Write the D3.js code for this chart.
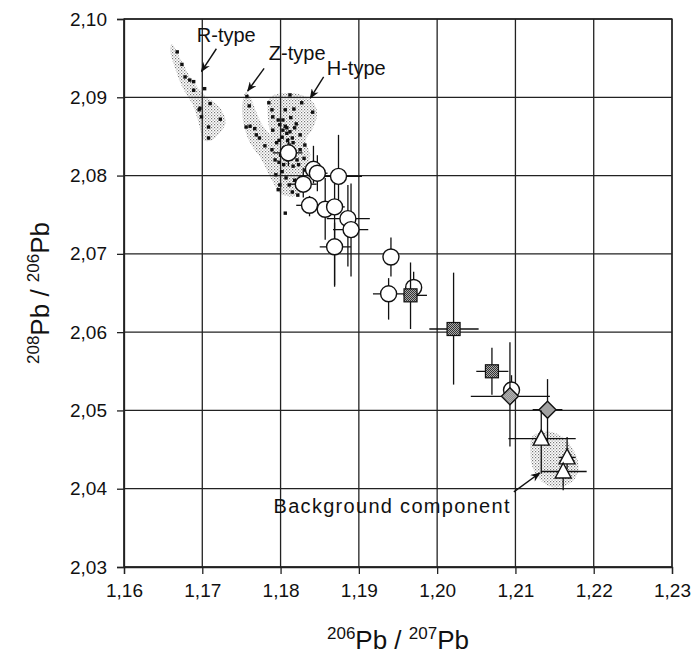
<!DOCTYPE html>
<html>
<head>
<meta charset="utf-8">
<script src="https://cdn.jsdelivr.net/npm/d3@7"></script>
<style>
  body { margin: 0; background: #fff; }
  text { font-family: "Liberation Sans", Arial, sans-serif; fill: #111; }
</style>
</head>
<body>
<div id="chart"></div>
<script>
// axis ticks
const xTicks = [1.16, 1.17, 1.18, 1.19, 1.20, 1.21, 1.22, 1.23];
const yTicks = [2.03, 2.04, 2.05, 2.06, 2.07, 2.08, 2.09, 2.10];

// rows: [x, y, xLow, xHigh, yLow, yHigh]
const circles = [
    [1.1810, 2.0829, 1.1790, 1.1828, 2.0812, 2.0848],
    [1.1842, 2.0808, 1.1832, 1.1852, 2.0790, 2.0838],
    [1.1847, 2.0803, 1.1835, 1.1860, 2.0780, 2.0826],
    [1.1874, 2.0799, 1.1856, 1.1904, 2.0752, 2.0852],
    [1.1829, 2.0789, 1.1812, 1.1846, 2.0772, 2.0810],
    [1.1837, 2.0762, 1.1820, 1.1844, 2.0748, 2.0774],
    [1.1857, 2.0757, 1.1846, 1.1868, 2.0718, 2.0797],
    [1.1869, 2.0760, 1.1856, 1.1882, 2.0660, 2.0790],
    [1.1886, 2.0745, 1.1859, 1.1914, 2.0684, 2.0788],
    [1.1890, 2.0731, 1.1867, 1.1912, 2.0671, 2.0790],
    [1.1869, 2.0709, 1.1850, 1.1890, 2.0658, 2.0740],
    [1.1941, 2.0696, 1.1935, 1.1947, 2.0671, 2.0721],
    [1.1938, 2.0649, 1.1918, 1.1959, 2.0616, 2.0669],
    [1.1970, 2.0657, 1.1960, 1.1980, 2.0640, 2.0677],
    [1.2095, 2.0526, 1.2085, 1.2105, 2.0510, 2.0545]
];
const squares = [
    [1.1966, 2.0647, 1.1957, 1.1987, 2.0604, 2.0689],
    [1.2021, 2.0604, 1.1990, 1.2053, 2.0533, 2.0676],
    [1.2070, 2.0550, 1.2050, 1.2091, 2.0520, 2.0580]
];
const diamonds = [
    [1.2093, 2.0518, 1.2043, 1.2144, 2.0454, 2.0587],
    [1.2141, 2.0501, 1.2122, 1.2160, 2.0459, 2.0540]
];
const triangles = [
    [1.2133, 2.0464, 1.2091, 1.2177, 2.0419, 2.0500],
    [1.2166, 2.0440, 1.2155, 1.2177, 2.0425, 2.0466],
    [1.2161, 2.0422, 1.2133, 1.2191, 2.0398, 2.0440]
];

// literature fields (stippled areas)
const rField = [[1.1661, 2.0968], [1.1674, 2.0945], [1.1687, 2.0922], [1.1703, 2.0903], [1.1723, 2.0886],
    [1.1730, 2.0868], [1.1725, 2.0858], [1.1712, 2.0845], [1.1702, 2.0845], [1.1696, 2.0865],
    [1.1688, 2.0890], [1.1675, 2.0912], [1.1666, 2.0935], [1.1659, 2.0960]];
const zField = [[1.1756, 2.0907], [1.1762, 2.0899], [1.1769, 2.0881], [1.1779, 2.0861], [1.1793, 2.0845],
    [1.1806, 2.0820], [1.1822, 2.0801], [1.1829, 2.0782], [1.1818, 2.0774], [1.1801, 2.0776],
    [1.1789, 2.0794], [1.1776, 2.0820], [1.1761, 2.0842], [1.1753, 2.0865], [1.1751, 2.0890]];
const hField = [[1.1786, 2.0899], [1.1802, 2.0905], [1.1818, 2.0905], [1.1835, 2.0899], [1.1845, 2.0888],
    [1.1846, 2.0874], [1.1840, 2.0858], [1.1832, 2.0845], [1.1838, 2.0826], [1.1831, 2.0807],
    [1.1825, 2.0788], [1.1812, 2.0782], [1.1799, 2.0794], [1.1793, 2.0820], [1.1789, 2.0845], [1.1784, 2.0871]];
const bgField = [[1.2122, 2.0467], [1.2142, 2.0473], [1.2159, 2.0467], [1.2172, 2.0453], [1.2180, 2.0434],
    [1.2179, 2.0418], [1.2167, 2.0405], [1.2148, 2.0402], [1.2133, 2.0410], [1.2122, 2.0427], [1.2119, 2.0447]];

// literature data points
const rDots = [[1.1668, 2.0958], [1.1674, 2.0942], [1.1678, 2.0926], [1.1684, 2.0922], [1.1689, 2.0920],
    [1.1689, 2.0909], [1.1703, 2.0911], [1.1697, 2.0886], [1.1696, 2.0884], [1.1710, 2.0892],
    [1.1699, 2.0875], [1.1723, 2.0872], [1.1708, 2.0862], [1.1708, 2.0848]];
const zDots = [[1.1757, 2.0901], [1.1760, 2.0889], [1.1756, 2.0862], [1.1761, 2.0863], [1.1767, 2.0860],
    [1.1769, 2.0852], [1.1773, 2.0848], [1.1780, 2.0838], [1.1789, 2.0833]];
const hDots = [[1.1812, 2.0903], [1.1817, 2.0885], [1.1841, 2.0881], [1.1785, 2.0893], [1.1789, 2.0884],
    [1.1790, 2.0875], [1.1797, 2.0871], [1.1799, 2.0865], [1.1803, 2.0858], [1.1808, 2.0854],
    [1.1802, 2.0849], [1.1809, 2.0845], [1.1816, 2.0842], [1.1795, 2.0842], [1.1790, 2.0858],
    [1.1825, 2.0833], [1.1803, 2.0871], [1.1806, 2.0863], [1.1808, 2.0861], [1.1812, 2.0856],
    [1.1815, 2.0848], [1.1811, 2.0839], [1.1804, 2.0835], [1.1807, 2.0830], [1.1813, 2.0833],
    [1.1818, 2.0826], [1.1821, 2.0820], [1.1800, 2.0826], [1.1798, 2.0817], [1.1804, 2.0814],
    [1.1809, 2.0820], [1.1816, 2.0812], [1.1823, 2.0814], [1.1830, 2.0822], [1.1832, 2.0807],
    [1.1802, 2.0805], [1.1807, 2.0797], [1.1799, 2.0788], [1.1811, 2.0788], [1.1818, 2.0794],
    [1.1825, 2.0797], [1.1797, 2.0782], [1.1815, 2.0779], [1.1822, 2.0775], [1.1829, 2.0782],
    [1.1806, 2.0752], [1.1794, 2.0801], [1.1793, 2.0820], [1.1798, 2.0845], [1.1820, 2.0866],
    [1.1825, 2.0852], [1.1831, 2.0839], [1.1827, 2.0893], [1.1806, 2.0884], [1.1813, 2.0874],
    [1.1818, 2.0861]];

// annotations: label, text anchor, arrow from, arrow to
const notes = [
    { label: 'R-type', at: [1.1693, 2.0970], from: [1.1718, 2.0962], to: [1.1699, 2.0933], spacing: 0 },
    { label: 'Z-type', at: [1.1785, 2.0947], from: [1.1779, 2.0937], to: [1.1758, 2.0908], spacing: 0 },
    { label: 'H-type', at: [1.1859, 2.0928], from: [1.1855, 2.0926], to: [1.1838, 2.0899], spacing: 0 },
    { label: 'Background component', at: [1.1791, 2.0369], from: [1.2098, 2.0396], to: [1.2131, 2.0420], spacing: 1.3 }
];

const W = 698, H = 659;
const margin = { top: 19, right: 26, bottom: 92, left: 124 };
const iw = W - margin.left - margin.right;
const ih = H - margin.top - margin.bottom;

const x = d3.scaleLinear().domain([1.16, 1.23]).range([0, iw]);
const y = d3.scaleLinear().domain([2.03, 2.10]).range([ih, 0]);
const fmt = d3.formatLocale({ decimal: ',', thousands: '.', grouping: [3], currency: ['', ''] }).format('.2f');

const svg = d3.select('#chart').append('svg')
    .attr('width', W)
    .attr('height', H);

const defs = svg.append('defs');

// stipple for the fields
const stip = defs.append('pattern')
    .attr('id', 'stipple')
    .attr('width', 3).attr('height', 3)
    .attr('patternUnits', 'userSpaceOnUse');
stip.append('rect').attr('width', 3).attr('height', 3).attr('fill', '#fff');
stip.append('rect').attr('x', 0).attr('y', 0).attr('width', 1.2).attr('height', 1.2).attr('fill', '#777');
stip.append('rect').attr('x', 1.5).attr('y', 1.5).attr('width', 1.2).attr('height', 1.2).attr('fill', '#999');

// dark checker for squares
const chk = defs.append('pattern')
    .attr('id', 'checkDark')
    .attr('width', 2).attr('height', 2)
    .attr('patternUnits', 'userSpaceOnUse');
chk.append('rect').attr('width', 2).attr('height', 2).attr('fill', '#333');
chk.append('rect').attr('width', 1).attr('height', 1).attr('fill', '#aaa');
chk.append('rect').attr('x', 1).attr('y', 1).attr('width', 1).attr('height', 1).attr('fill', '#aaa');

// lighter checker for diamonds
const chk2 = defs.append('pattern')
    .attr('id', 'checkLight')
    .attr('width', 2).attr('height', 2)
    .attr('patternUnits', 'userSpaceOnUse');
chk2.append('rect').attr('width', 2).attr('height', 2).attr('fill', '#666');
chk2.append('rect').attr('width', 1).attr('height', 1).attr('fill', '#ddd');
chk2.append('rect').attr('x', 1).attr('y', 1).attr('width', 1).attr('height', 1).attr('fill', '#ddd');

defs.append('marker')
    .attr('id', 'arrow')
    .attr('viewBox', '0 0 10 8')
    .attr('refX', 9).attr('refY', 4)
    .attr('markerWidth', 11).attr('markerHeight', 8)
    .attr('markerUnits', 'userSpaceOnUse')
    .attr('orient', 'auto')
    .append('path')
    .attr('d', 'M0,0 L10,4 L0,8 L3,4 Z')
    .attr('fill', '#111');

const g = svg.append('g')
    .attr('transform', `translate(${margin.left},${margin.top})`);

// stippled fields go under the grid
const line = d3.line().x(d => x(d[0])).y(d => y(d[1])).curve(d3.curveCatmullRomClosed);
[rField, zField, hField, bgField].forEach(f => {
    g.append('path')
        .attr('d', line(f))
        .attr('fill', 'url(#stipple)');
});

// grid
g.append('g').selectAll('line')
    .data(xTicks)
    .enter().append('line')
    .attr('x1', d => x(d)).attr('x2', d => x(d))
    .attr('y1', 0).attr('y2', ih)
    .attr('stroke', '#222').attr('stroke-width', 1.3);
g.append('g').selectAll('line')
    .data(yTicks)
    .enter().append('line')
    .attr('x1', 0).attr('x2', iw)
    .attr('y1', d => y(d)).attr('y2', d => y(d))
    .attr('stroke', '#222').attr('stroke-width', 1.3);

// axes
const xAxis = g.append('g')
    .attr('transform', `translate(0,${ih})`)
    .call(d3.axisBottom(x).tickValues(xTicks).tickFormat(fmt).tickSize(7).tickPadding(10));
const yAxis = g.append('g')
    .call(d3.axisLeft(y).tickValues(yTicks).tickFormat(fmt).tickSize(7).tickPadding(10));
[xAxis, yAxis].forEach(a => {
    a.select('.domain').attr('stroke', '#222').attr('stroke-width', 1.3);
    a.selectAll('.tick line').attr('stroke', '#222').attr('stroke-width', 1.3);
    a.selectAll('.tick text')
        .style('font-family', '"Liberation Sans", Arial, sans-serif')
        .style('font-size', '19px')
        .attr('fill', '#111');
});

// literature points
g.append('g').selectAll('rect')
    .data(rDots.concat(zDots, hDots))
    .enter().append('rect')
    .attr('x', d => x(d[0]) - 1.7)
    .attr('y', d => y(d[1]) - 1.7)
    .attr('width', 3.4).attr('height', 3.4)
    .attr('fill', '#111');

function errorBars(data) {
    const eb = g.append('g').attr('stroke', '#111').attr('stroke-width', 1.3);
    eb.selectAll('.v').data(data).enter().append('line')
        .attr('x1', d => x(d[0])).attr('x2', d => x(d[0]))
        .attr('y1', d => y(d[4])).attr('y2', d => y(d[5]));
    eb.selectAll('.h').data(data).enter().append('line')
        .attr('x1', d => x(d[2])).attr('x2', d => x(d[3]))
        .attr('y1', d => y(d[1])).attr('y2', d => y(d[1]));
}

// circles
errorBars(circles);
g.append('g').selectAll('circle')
    .data(circles)
    .enter().append('circle')
    .attr('cx', d => x(d[0])).attr('cy', d => y(d[1]))
    .attr('r', 8)
    .attr('fill', '#fff').attr('stroke', '#111').attr('stroke-width', 1.4);

// squares
errorBars(squares);
g.append('g').selectAll('rect')
    .data(squares)
    .enter().append('rect')
    .attr('x', d => x(d[0]) - 6.5).attr('y', d => y(d[1]) - 6.5)
    .attr('width', 13).attr('height', 13)
    .attr('fill', 'url(#checkDark)').attr('stroke', '#111').attr('stroke-width', 1.2);

// diamonds
errorBars(diamonds);
g.append('g').selectAll('path')
    .data(diamonds)
    .enter().append('path')
    .attr('transform', d => `translate(${x(d[0])},${y(d[1])})`)
    .attr('d', 'M0,-8.5 L8.5,0 L0,8.5 L-8.5,0 Z')
    .attr('fill', 'url(#checkLight)').attr('stroke', '#111').attr('stroke-width', 1.4);

// triangles
errorBars(triangles);
g.append('g').selectAll('path')
    .data(triangles)
    .enter().append('path')
    .attr('transform', d => `translate(${x(d[0])},${y(d[1])})`)
    .attr('d', 'M0,-8.5 L8,6.5 L-8,6.5 Z')
    .attr('fill', '#fff').attr('stroke', '#111').attr('stroke-width', 1.4);

// frame
g.append('rect')
    .attr('width', iw).attr('height', ih)
    .attr('fill', 'none').attr('stroke', '#222').attr('stroke-width', 1.3);

// annotations
notes.forEach(n => {
    g.append('line')
        .attr('x1', x(n.from[0])).attr('y1', y(n.from[1]))
        .attr('x2', x(n.to[0])).attr('y2', y(n.to[1]))
        .attr('stroke', '#111').attr('stroke-width', 1.4)
        .attr('marker-end', 'url(#arrow)');
    g.append('text')
        .attr('x', x(n.at[0])).attr('y', y(n.at[1]))
        .style('font-size', '20px')
        .style('letter-spacing', `${n.spacing}px`)
        .text(n.label);
});

// axis titles
const xt = svg.append('text')
    .attr('x', margin.left + iw / 2)
    .attr('y', 649)
    .attr('text-anchor', 'middle')
    .style('font-size', '26px');
xt.append('tspan').attr('dy', '-10').style('font-size', '17px').text('206');
xt.append('tspan').attr('dy', '10').text('Pb / ');
xt.append('tspan').attr('dy', '-10').style('font-size', '17px').text('207');
xt.append('tspan').attr('dy', '10').text('Pb');

const yt = svg.append('text')
    .attr('transform', `translate(49,${margin.top + ih / 2}) rotate(-90)`)
    .attr('text-anchor', 'middle')
    .style('font-size', '26px');
yt.append('tspan').attr('dy', '-10').style('font-size', '17px').text('208');
yt.append('tspan').attr('dy', '10').text('Pb / ');
yt.append('tspan').attr('dy', '-10').style('font-size', '17px').text('206');
yt.append('tspan').attr('dy', '10').text('Pb');
</script>
</body>
</html>
